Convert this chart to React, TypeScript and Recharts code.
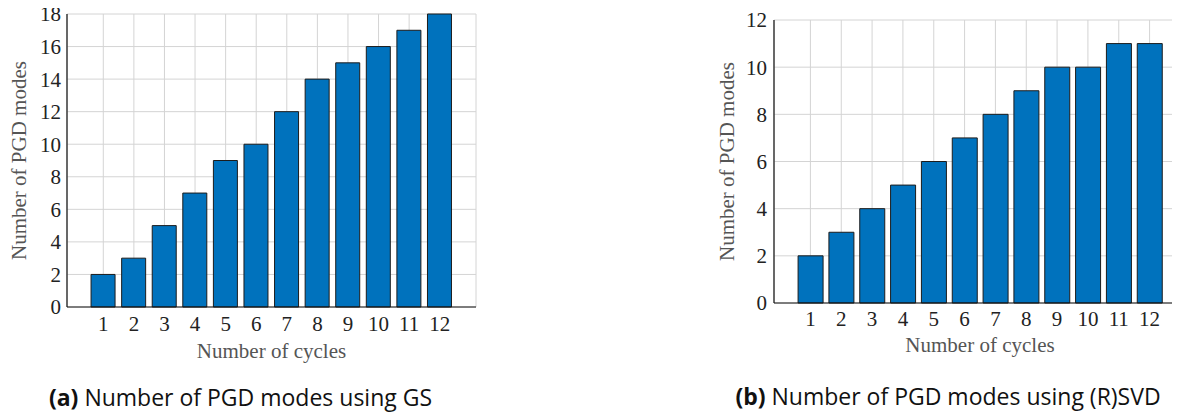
import React from "react";
import { Bar, BarChart, CartesianGrid, Label, XAxis, YAxis } from "recharts";

const cycles = ["1", "2", "3", "4", "5", "6", "7", "8", "9", "10", "11", "12"];
const gsModes = [2, 3, 5, 7, 9, 10, 12, 14, 15, 16, 17, 18];
const svdModes = [2, 3, 4, 5, 6, 7, 8, 9, 10, 10, 11, 11];
const gsTicks = [0, 2, 4, 6, 8, 10, 12, 14, 16, 18];
const svdTicks = [0, 2, 4, 6, 8, 10, 12];

const SERIF = "'Liberation Serif', 'DejaVu Serif', serif";
const BLUE = "#0072BD";

const gsData = cycles.map((c, i) => ({ cycle: c, modes: gsModes[i] }));
const svdData = cycles.map((c, i) => ({ cycle: c, modes: svdModes[i] }));

const tickStyle = { fill: "#222", fontSize: 21, fontFamily: SERIF };

function xTitle(dy: number) {
  return (props: any) => {
    const vb = props.viewBox || {};
    return (
      <text
        x={vb.x + vb.width / 2}
        y={vb.y + dy}
        textAnchor="middle"
        dominantBaseline="central"
        fill="#555"
        fontSize={21}
        fontFamily={SERIF}
      >
        Number of cycles
      </text>
    );
  };
}

function yTitle(dx: number) {
  return (props: any) => {
    const vb = props.viewBox || {};
    const cx = vb.x + dx;
    const cy = vb.y + vb.height / 2;
    return (
      <text
        x={cx}
        y={cy}
        transform={`rotate(-90, ${cx}, ${cy})`}
        textAnchor="middle"
        dominantBaseline="central"
        fill="#555"
        fontSize={21}
        fontFamily={SERIF}
      >
        Number of PGD modes
      </text>
    );
  };
}

interface PanelProps {
  data: { cycle: string; modes: number }[];
  ticks: number[];
  max: number;
  width: number;
  height: number;
  margin: { top: number; right: number; bottom: number; left: number };
  yWidth: number;
  xTickGap: number;
  yTickGap: number;
  xTitleDy: number;
  yTitleDx: number;
  pad: number;
}

function Panel(p: PanelProps) {
  return (
    <BarChart width={p.width} height={p.height} data={p.data} margin={p.margin} barCategoryGap="10%">
      <CartesianGrid stroke="#d4d4d4" strokeWidth={1} />
      <XAxis
        dataKey="cycle"
        height={50}
        padding={{ left: p.pad, right: p.pad }}
        tickSize={0}
        tickMargin={p.xTickGap}
        tick={tickStyle}
        axisLine={{ stroke: "#111", strokeWidth: 1.2 }}
        interval={0}
      >
        <Label content={xTitle(p.xTitleDy)} />
      </XAxis>
      <XAxis
        xAxisId="top"
        dataKey="cycle"
        orientation="top"
        height={0}
        padding={{ left: p.pad, right: p.pad }}
        tick={false}
        tickLine={false}
        axisLine={{ stroke: "#111", strokeWidth: 1.2 }}
      />
      <YAxis
        width={p.yWidth}
        domain={[0, p.max]}
        ticks={p.ticks}
        tickSize={0}
        tickMargin={p.yTickGap}
        tick={tickStyle}
        axisLine={{ stroke: "#111", strokeWidth: 1.2 }}
        interval={0}
      >
        <Label content={yTitle(p.yTitleDx)} />
      </YAxis>
      <YAxis
        yAxisId="right"
        orientation="right"
        width={0}
        domain={[0, p.max]}
        tick={false}
        tickLine={false}
        axisLine={{ stroke: "#111", strokeWidth: 1.2 }}
      />
      <Bar dataKey="modes" fill={BLUE} stroke="#1c1c1c" strokeWidth={1} isAnimationActive={false} />
    </BarChart>
  );
}

const captionStyle: React.CSSProperties = {
  position: "absolute",
  textAlign: "center",
  fontFamily: "'Open Sans', 'Noto Sans', sans-serif",
  fontSize: 23,
  lineHeight: "22px",
  color: "#111",
  whiteSpace: "nowrap",
};

export default function App() {
  return (
    <div
      style={{
        position: "relative",
        width: 1180,
        height: 412,
        margin: "-8px 0 0 -8px",
        background: "#fff",
      }}
    >
      <div style={{ position: "absolute", left: 0, top: 0 }}>
        <Panel
          data={gsData}
          ticks={gsTicks}
          max={18}
          width={480}
          height={380}
          margin={{ top: 14, right: 4, bottom: 23, left: 0 }}
          yWidth={67}
          xTickGap={9}
          yTickGap={6}
          xTitleDy={44}
          yTitleDx={19}
          pad={21}
        />
      </div>
      <div style={{ position: "absolute", left: 700, top: 0, width: 480, height: 380, overflow: "hidden" }}>
        <Panel
          data={svdData}
          ticks={svdTicks}
          max={12}
          width={486}
          height={380}
          margin={{ top: 20, right: 0, bottom: 27, left: 0 }}
          yWidth={74}
          xTickGap={8}
          yTickGap={7}
          xTitleDy={42}
          yTitleDx={27}
          pad={21}
        />
      </div>
      <div style={{ ...captionStyle, left: 0, width: 481, top: 386 }}>
        <b>(a)</b> Number of PGD modes using GS
      </div>
      <div style={{ ...captionStyle, left: 708, width: 480, top: 385 }}>
        <b>(b)</b> Number of PGD modes using (R)SVD
      </div>
    </div>
  );
}
